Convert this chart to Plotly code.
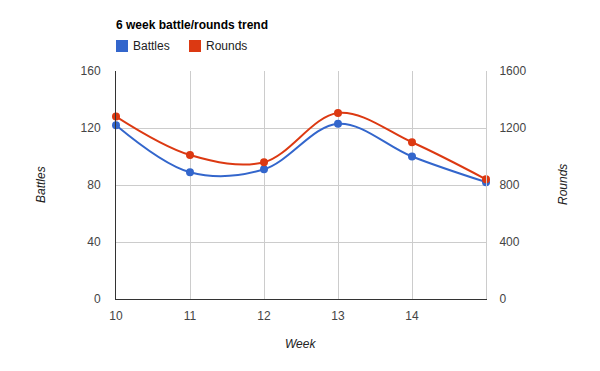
import plotly.graph_objects as go

weeks = [10, 11, 12, 13, 14, 15]
battles = [122, 89, 91, 123, 100, 82]
rounds = [1280, 1010, 960, 1305, 1100, 840]
x_tick_vals = [10, 11, 12, 13, 14, 15]
x_tick_text = ["10", "11", "12", "13", "14", ""]
series_names = ["Battles", "Rounds"]
colors = ["#3366CC", "#DC3912"]

FONT = "Liberation Sans, Arial, sans-serif"

fig = go.Figure()
fig.add_trace(go.Scatter(
    x=weeks, y=battles, name=series_names[0], mode="lines+markers",
    line=dict(color=colors[0], width=2, shape="spline", smoothing=1),
    marker=dict(color=colors[0], size=8), yaxis="y", showlegend=False,
    cliponaxis=False,
))
fig.add_trace(go.Scatter(
    x=weeks, y=rounds, name=series_names[1], mode="lines+markers",
    line=dict(color=colors[1], width=2, shape="spline", smoothing=1),
    marker=dict(color=colors[1], size=8), yaxis="y2", showlegend=False,
    cliponaxis=False,
))

W, H = 600, 371
L, R, T, B = 116, 114, 71, 72
pw = W - L - R
ph = H - T - B

def px(x):
    return (x - L) / pw

def py(y):
    return (H - B - y) / ph

# legend drawn with shapes + text
legend_items = [(116, series_names[0], colors[0]), (189, series_names[1], colors[1])]
for x0, name, c in legend_items:
    fig.add_shape(type="rect", xref="paper", yref="paper",
                  x0=px(x0), x1=px(x0 + 12), y0=py(52), y1=py(40),
                  fillcolor=c, line=dict(width=0))
    fig.add_annotation(xref="paper", yref="paper", x=px(x0 + 15),
                       y=py(46), text=name, showarrow=False,
                       xanchor="left", yanchor="middle",
                       font=dict(family=FONT, size=12, color="#222222"))

# axis titles
title_font = dict(family=FONT, size=12, color="#222222")
fig.add_annotation(xref="paper", yref="paper", x=px(300), y=py(344),
                   text="<i>Week</i>", showarrow=False, xanchor="center", yanchor="middle",
                   font=title_font)
fig.add_annotation(xref="paper", yref="paper", x=px(41), y=py(185),
                   text="<i>Battles</i>", showarrow=False, xanchor="center", yanchor="middle",
                   textangle=-90, font=title_font)
fig.add_annotation(xref="paper", yref="paper", x=px(563), y=py(185),
                   text="<i>Rounds</i>", showarrow=False, xanchor="center", yanchor="middle",
                   textangle=-90, font=title_font)

fig.update_layout(
    width=W, height=H,
    margin=dict(l=L, r=R, t=T, b=B, autoexpand=False),
    paper_bgcolor="white", plot_bgcolor="white",
    title=dict(text="<b>6 week battle/rounds trend</b>", x=L / W, xanchor="left",
               xref="container", y=1 - 25 / H, yanchor="middle", yref="container",
               automargin=False,
               font=dict(family=FONT, size=12, color="#000000")),
    font=dict(family=FONT, size=12, color="#444444"),
    xaxis=dict(range=[10, 15], tickvals=x_tick_vals, ticktext=x_tick_text,
               showgrid=True, gridcolor="#CCCCCC", gridwidth=1,
               showline=True, linecolor="#333333", linewidth=1,
               zeroline=False, ticks="", automargin=False, ticklabelstandoff=6,
               tickfont=dict(color="#444444", size=12)),
    yaxis=dict(range=[0, 160], tickvals=[0, 40, 80, 120, 160],
               showgrid=True, gridcolor="#CCCCCC", gridwidth=1,
               showline=True, linecolor="#333333", linewidth=1,
               zeroline=False, ticks="", automargin=False, ticklabelstandoff=12,
               tickfont=dict(color="#444444", size=12)),
    yaxis2=dict(range=[0, 1600], tickvals=[0, 400, 800, 1200, 1600], overlaying="y",
                side="right", showgrid=False, zeroline=False,
                showline=True, linecolor="#CCCCCC", linewidth=1, ticks="",
                automargin=False, ticklabelstandoff=10,
                tickfont=dict(color="#444444", size=12)),
)

fig.write_html("out.html", config={"displayModeBar": False},
               post_script="document.body.style.margin='0';")
